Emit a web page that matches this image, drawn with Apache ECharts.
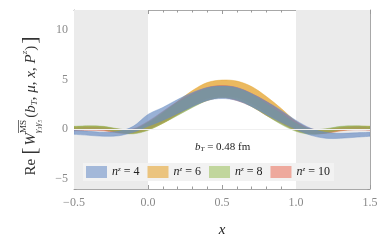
<!DOCTYPE html>
<html><head><meta charset="utf-8">
<script src="https://cdn.jsdelivr.net/npm/echarts@6/dist/echarts.min.js"></script>
<style>html,body{margin:0;padding:0;background:#fff}#c{width:382px;height:243px}</style>
</head><body><div id="c"></div>
<script>
const xs = [-0.5,-0.4,-0.3,-0.2,-0.1,0.0,0.1,0.2,0.3,0.4,0.5,0.6,0.7,0.8,0.9,1.0,1.1,1.2,1.3,1.4,1.5];
const n4Lo  = [-0.5,-0.6,-0.7,-0.65,-0.3,0.3,0.9,1.6,2.3,2.9,3.1,2.9,2.3,1.5,0.7,0.0,-0.6,-0.9,-0.9,-0.8,-0.7];
const n4Hi  = [-0.1,-0.2,-0.3,-0.2,0.3,1.5,2.2,3.0,3.7,4.2,4.35,4.2,3.6,2.8,1.9,0.9,0.1,-0.3,-0.4,-0.35,-0.3];
const n6Lo  = [-0.05,0.0,-0.05,-0.35,-0.4,-0.05,0.6,1.5,2.4,3.1,3.3,3.2,2.6,1.7,0.7,-0.1,-0.4,-0.4,-0.15,0.0,0.0];
const n6Hi  = [0.25,0.3,0.25,0.0,0.0,0.6,1.6,2.8,3.9,4.7,4.95,4.85,4.3,3.3,2.1,0.8,0.0,-0.05,0.2,0.3,0.3];
const n8Lo  = [0.0,0.05,0.0,-0.3,-0.45,-0.1,0.6,1.4,2.2,2.9,3.2,3.0,2.3,1.4,0.5,-0.2,-0.5,-0.35,-0.05,0.05,0.0];
const n8Hi  = [0.3,0.35,0.3,0.05,-0.05,0.7,1.7,2.7,3.5,4.1,4.3,4.1,3.5,2.6,1.6,0.6,0.0,0.05,0.3,0.35,0.3];
const n10Lo = [-0.15,-0.1,-0.15,-0.35,-0.35,0.0,0.7,1.5,2.3,2.9,3.2,2.9,2.3,1.4,0.6,-0.1,-0.45,-0.4,-0.15,-0.05,-0.1];
const n10Hi = [0.15,0.2,0.15,0.0,0.05,0.8,1.8,2.8,3.6,4.2,4.4,4.2,3.6,2.8,1.8,0.8,0.05,0.0,0.15,0.25,0.2];
const xTicks = [-0.5,0,0.5,1.0,1.5];
const yTicks = [-5,0,5,10];
const yMinor = [-6,-4,-3,-2,-1,1,2,3,4,6,7,8,9,11,12];
const shadeRanges = [[-0.5,0],[1,1.5]];

const F = '"Liberation Serif", "DejaVu Serif", serif';
const bands = [
  {name:'n6', lo:n6Lo, hi:n6Hi, color:'rgba(230,168,55,0.8)'},
  {name:'n10', lo:n10Lo, hi:n10Hi, color:'rgba(215,110,90,0.7)'},
  {name:'n8', lo:n8Lo, hi:n8Hi, color:'rgba(140,175,85,0.7)'},
  {name:'n4', lo:n4Lo, hi:n4Hi, color:'rgba(105,140,195,0.68)'}
];
const legendColors = {n4:'rgba(110,145,200,0.6)', n6:'rgba(230,165,50,0.6)', n8:'rgba(160,195,100,0.6)', n10:'rgba(235,120,100,0.6)'};
const labels = {n4:'4',n6:'6',n8:'8',n10:'10'};

function crPath(pts, start){
  let d = (start?'M':'L')+pts[0][0]+' '+pts[0][1];
  for(let i=0;i<pts.length-1;i++){
    const p0=pts[i-1]||pts[i], p1=pts[i], p2=pts[i+1], p3=pts[i+2]||pts[i+1];
    const c1=[p1[0]+(p2[0]-p0[0])/6, p1[1]+(p2[1]-p0[1])/6];
    const c2=[p2[0]-(p3[0]-p1[0])/6, p2[1]-(p3[1]-p1[1])/6];
    d+=' C'+c1[0]+' '+c1[1]+' '+c2[0]+' '+c2[1]+' '+p2[0]+' '+p2[1];
  }
  return d;
}

const series = [{
  type:'line', data:[], silent:true,
  markArea:{silent:true, itemStyle:{color:'#ebebeb'},
    data: shadeRanges.map(r=>[{xAxis:r[0]},{xAxis:r[1]}])},
  markLine:{silent:true, symbol:'none', label:{show:false}, lineStyle:{color:'#f0f0f0', width:1, type:'solid'}, data:[{yAxis:0}]}
}];
bands.forEach(b=>{
  series.push({
    type:'custom', name:b.name, silent:true, clip:true,
    itemStyle:{color:legendColors[b.name]},
    data: xs.map((x,i)=>[x,b.lo[i],b.hi[i]]),
    encode:{x:0, y:[1,2]},
    renderItem:(params, api)=>{
      if(params.dataIndex!==0) return null;
      const up = xs.map((x,i)=>api.coord([x,b.hi[i]]));
      const dn = xs.map((x,i)=>api.coord([x,b.lo[i]])).reverse();
      const d = crPath(up,true)+' '+crPath(dn,false)+' Z';
      return {type:'path', shape:{pathData:d},
        style:{fill:b.color, stroke:b.color, lineWidth:0.6}};
    }
  });
});

const ctx = document.createElement('canvas').getContext('2d');
function tw(t, font){ ctx.font = font; return ctx.measureText(t).width; }
const S = 15;
const fN = S+'px '+F, fI = 'italic '+S+'px '+F, fS = '9px '+F, fSI = 'italic 9px '+F, fB = '22px '+F;
const toks = [
  {t:'Re', f:fN, dy:0}, {sp:4}, {t:'[', f:fB, dy:-1}, {sp:2},
  {t:'W', f:fI, dy:0},
  {stack:[{t:'MS', f:fS, dy:-7, over:true},{t:'\u03b3\u2083\u03b3\u2085', f:fSI, dy:7}]},
  {sp:2}, {t:'(', f:fN, dy:0}, {t:'b', f:fI, dy:0}, {t:'T', f:fSI, dy:4},
  {t:', ', f:fN, dy:0}, {t:'\u03bc', f:fI, dy:0}, {t:', ', f:fN, dy:0},
  {t:'x', f:fI, dy:0}, {t:', ', f:fN, dy:0}, {t:'P', f:fI, dy:0}, {t:'z', f:fSI, dy:-6},
  {t:')', f:fN, dy:0}, {sp:2}, {t:']', f:fB, dy:-1}
];
const children = [];
let cx = 0;
toks.forEach(k=>{
  if(k.sp){ cx += k.sp; return; }
  if(k.stack){
    let mw = 0;
    k.stack.forEach(s=>{
      const w = tw(s.t, s.f); mw = Math.max(mw, w);
      children.push({type:'text', x:cx, y:s.dy, style:{text:s.t, font:s.f, fill:'#333', verticalAlign:'middle', align:'left'}});
      if(s.over) children.push({type:'line', shape:{x1:cx, y1:s.dy-5.5, x2:cx+w, y2:s.dy-5.5}, style:{stroke:'#333', lineWidth:0.7}});
    });
    cx += mw; return;
  }
  const w = tw(k.t, k.f);
  children.push({type:'text', x:cx, y:k.dy, style:{text:k.t, font:k.f, fill:'#333', verticalAlign:'middle', align:'left'}});
  cx += w;
});
children.forEach(c=>{ if(c.type==='text') c.x -= cx/2; else { c.shape.x1 -= cx/2; c.shape.x2 -= cx/2; } });

const tickStyle = {color:'#9a9a9a', width:1};
const axLine = {show:true, onZero:false, lineStyle:{color:'#a8a8a8', width:1}};
const chart = echarts.init(document.getElementById('c'), null, {renderer:'canvas'});
chart.setOption({
  animation:false,
  grid:{left:74, right:12, top:10, bottom:50},
  xAxis:[{
    type:'value', min:-0.5, max:1.5, interval:0.5,
    name:'x', nameLocation:'middle', nameGap:34,
    nameTextStyle:{fontFamily:F, fontStyle:'italic', fontSize:15, color:'#222'},
    axisLine:axLine,
    axisTick:{show:true, inside:true, length:4, lineStyle:tickStyle},
    minorTick:{show:true, splitNumber:5, length:2.5, lineStyle:tickStyle},
    splitLine:{show:false},
    axisLabel:{fontFamily:F, fontSize:12, color:'#8a8a8a', margin:8, customValues:xTicks,
      formatter:v=>(v<0?'\u2212':'')+Math.abs(v).toFixed(1)}
  },{
    type:'value', position:'top', min:-0.5, max:1.5, interval:0.5,
    axisLine:axLine,
    axisTick:{show:true, inside:true, length:4, lineStyle:tickStyle},
    minorTick:{show:true, splitNumber:5, length:2.5, lineStyle:tickStyle},
    splitLine:{show:false}, axisLabel:{show:false}
  }],
  yAxis:[{
    type:'value', min:-6, max:12,
    axisLine:axLine,
    axisTick:{show:true, inside:true, length:4, lineStyle:tickStyle, customValues:yTicks},
    splitLine:{show:false},
    axisLabel:{fontFamily:F, fontSize:12, color:'#8a8a8a', margin:6, customValues:yTicks,
      formatter:v=>(v<0?'\u2212':'')+Math.abs(v)}
  },{
    type:'value', position:'right', min:-6, max:12,
    axisLine:axLine,
    axisTick:{show:true, inside:true, length:4, lineStyle:tickStyle, customValues:yTicks},
    splitLine:{show:false}, axisLabel:{show:false}
  },{
    type:'value', position:'left', min:-6, max:12,
    axisLine:{show:false, onZero:false},
    axisTick:{show:true, inside:true, length:2.5, lineStyle:tickStyle, customValues:yMinor},
    splitLine:{show:false}, axisLabel:{show:false}
  },{
    type:'value', position:'right', min:-6, max:12,
    axisLine:{show:false, onZero:false},
    axisTick:{show:true, inside:true, length:2.5, lineStyle:tickStyle, customValues:yMinor},
    splitLine:{show:false}, axisLabel:{show:false}
  }],
  legend:{
    data:['n4','n6','n8','n10'], left:83, top:163, orient:'horizontal',
    padding:[3,4,3,3], itemWidth:21, itemHeight:12, itemGap:8, icon:'rect',
    backgroundColor:'#f2f2f2',
    formatter:n=>'{i|n}{s|z}{t| = '+labels[n]+'}',
    textStyle:{width:36, fontFamily:F, fontSize:12, color:'#222',
      rich:{i:{fontFamily:F, fontStyle:'italic', fontSize:12},
            s:{fontFamily:F, fontStyle:'italic', fontSize:7, verticalAlign:'top', padding:[0,0,4,0]},
            t:{fontFamily:F, fontSize:12}}}
  },
  graphic:[
    {type:'text', left:195, top:142, silent:true,
      style:{text:'{i|b}{s|T}{t| = 0.48 fm}', fill:'#222',
        rich:{i:{fontFamily:F, fontStyle:'italic', fontSize:11},
              s:{fontFamily:F, fontStyle:'italic', fontSize:7, verticalAlign:'bottom', padding:[4,0,0,0]},
              t:{fontFamily:F, fontSize:11}}}},
    {type:'group', x:31, y:106, rotation:Math.PI/2, silent:true, children:children}
  ],
  series: series
});
</script></body></html>
